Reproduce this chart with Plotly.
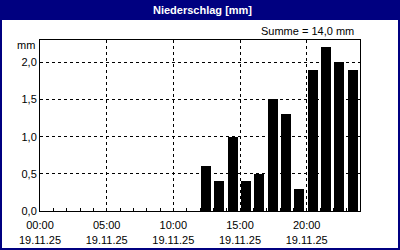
import plotly.graph_objects as go

hours = [12, 13, 14, 15, 16, 17, 18, 19, 20, 21, 22, 23]
rain_mm = [0.6, 0.4, 1.0, 0.4, 0.5, 1.5, 1.3, 0.3, 1.9, 2.2, 2.0, 1.9]
x_tick_vals = [0, 5, 10, 15, 20]
x_tick_text = ["00:00<br>19.11.25", "05:00<br>19.11.25", "10:00<br>19.11.25",
               "15:00<br>19.11.25", "20:00<br>19.11.25"]
y_tick_vals = [0, 0.5, 1.0, 1.5, 2.0]
title_text = "Niederschlag [mm]"
sum_text = "Summe = 14,0 mm"
unit_text = "mm"

W, H = 400, 250
L, R, T, B = 40, 40, 40, 39
PW, PH = W - L - R, H - T - B


def px(x):
    return (x - L) / PW


def py(y):
    return (H - B - y) / PH


NAVY = "#000080"
FONT = "Liberation Sans"

fig = go.Figure()
fig.add_trace(go.Bar(
    x=hours, y=rain_mm, offset=0.08, width=0.75,
    marker=dict(color="#000000", line=dict(width=0)),
))

fig.update_layout(
    width=W, height=H,
    margin=dict(l=L, r=R, t=T, b=B),
    paper_bgcolor=NAVY,
    plot_bgcolor="#ffffff",
    showlegend=False,
    separators=",.",
    font=dict(family=FONT, size=11, color="#000000"),
    bargap=0,
)
fig.update_xaxes(
    range=[0, 24], tickvals=x_tick_vals, ticktext=x_tick_text,
    ticks="inside", ticklen=3, tickcolor="#000000",
    ticklabelstandoff=4, automargin=False,
    showline=True, linecolor="#000000", linewidth=1, mirror=True,
    showgrid=True, gridcolor="#000000", gridwidth=1, griddash="3px,3px",
    zeroline=False,
    minor=dict(dtick=1, ticks="inside", ticklen=3, tickcolor="#000000", showgrid=False),
    tickfont=dict(family=FONT, size=11, color="#000000"),
)
fig.update_yaxes(
    range=[0, 2.3], tickvals=y_tick_vals, tickformat=".1f",
    ticks="", showline=True, linecolor="#000000", linewidth=1, mirror=True,
    automargin=False,
    showgrid=True, gridcolor="#000000", gridwidth=1, griddash="3px,3px",
    zeroline=False,
    tickfont=dict(family=FONT, size=11, color="#000000"),
)

fig.add_shape(type="rect", xref="paper", yref="paper", layer="below",
              x0=px(2), x1=px(398), y0=py(248), y1=py(20),
              fillcolor="#ffffff", line=dict(width=0))

fig.add_annotation(xref="paper", yref="paper", x=px(202), y=py(10),
                   text="<b>" + title_text + "</b>", showarrow=False,
                   xanchor="center", yanchor="middle",
                   font=dict(family=FONT, size=11, color="#ffffff"))
fig.add_annotation(xref="paper", yref="paper", x=px(356), y=py(31),
                   text=sum_text, showarrow=False,
                   xanchor="right", yanchor="middle",
                   font=dict(family=FONT, size=11, color="#000000"))
fig.add_annotation(xref="paper", yref="paper", x=px(37), y=py(45),
                   text=unit_text, showarrow=False,
                   xanchor="right", yanchor="middle",
                   font=dict(family=FONT, size=11, color="#000000"))

fig.write_html("out.html")
